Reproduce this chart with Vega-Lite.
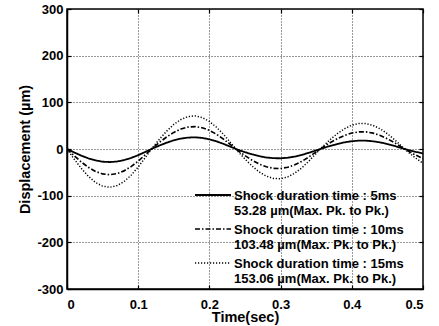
{
  "$schema": "https://vega.github.io/schema/vega-lite/v6.json",
  "width": 356,
  "height": 280,
  "autosize": "none",
  "padding": {"left": 67, "top": 9, "right": 16, "bottom": 37},
  "background": "white",
  "config": {
    "view": {"stroke": "black", "strokeWidth": 1.5},
    "font": "Liberation Sans",
    "axis": {
      "domainColor": "black", "domainWidth": 1.5,
      "gridColor": "#333", "gridDash": [1, 2], "gridWidth": 1,
      "tickColor": "black", "tickSize": -4, "tickWidth": 1.2,
      "labelFont": "Liberation Sans", "labelFontSize": 13, "labelFontWeight": "bold", "labelColor": "black",
      "titleFont": "Liberation Sans", "titleFontSize": 14.5, "titleFontWeight": "bold", "titleColor": "black"
    }
  },
  "data": {"values": [
    {"t":0,"v":0,"s":"5ms"},{"t":0.01,"v":-7.3,"s":"5ms"},{"t":0.02,"v":-14.2,"s":"5ms"},{"t":0.03,"v":-20.0,"s":"5ms"},{"t":0.04,"v":-24.4,"s":"5ms"},{"t":0.05,"v":-27.2,"s":"5ms"},{"t":0.06,"v":-28.0,"s":"5ms"},{"t":0.07,"v":-26.9,"s":"5ms"},{"t":0.08,"v":-23.9,"s":"5ms"},{"t":0.09,"v":-19.2,"s":"5ms"},{"t":0.1,"v":-13.2,"s":"5ms"},{"t":0.11,"v":-6.2,"s":"5ms"},{"t":0.12,"v":1.0,"s":"5ms"},{"t":0.13,"v":7.5,"s":"5ms"},{"t":0.14,"v":13.5,"s":"5ms"},{"t":0.15,"v":18.6,"s":"5ms"},{"t":0.16,"v":22.3,"s":"5ms"},{"t":0.17,"v":24.5,"s":"5ms"},{"t":0.18,"v":25.0,"s":"5ms"},{"t":0.19,"v":23.7,"s":"5ms"},{"t":0.2,"v":20.8,"s":"5ms"},{"t":0.21,"v":16.4,"s":"5ms"},{"t":0.22,"v":10.9,"s":"5ms"},{"t":0.23,"v":4.6,"s":"5ms"},{"t":0.24,"v":-1.6,"s":"5ms"},{"t":0.25,"v":-6.8,"s":"5ms"},{"t":0.26,"v":-11.5,"s":"5ms"},{"t":0.27,"v":-15.4,"s":"5ms"},{"t":0.28,"v":-18.2,"s":"5ms"},{"t":0.29,"v":-19.7,"s":"5ms"},{"t":0.3,"v":-19.9,"s":"5ms"},{"t":0.31,"v":-18.7,"s":"5ms"},{"t":0.32,"v":-16.2,"s":"5ms"},{"t":0.33,"v":-12.5,"s":"5ms"},{"t":0.34,"v":-8.0,"s":"5ms"},{"t":0.35,"v":-2.9,"s":"5ms"},{"t":0.36,"v":2.1,"s":"5ms"},{"t":0.37,"v":6.8,"s":"5ms"},{"t":0.38,"v":10.9,"s":"5ms"},{"t":0.39,"v":14.3,"s":"5ms"},{"t":0.4,"v":16.7,"s":"5ms"},{"t":0.41,"v":17.9,"s":"5ms"},{"t":0.42,"v":17.8,"s":"5ms"},{"t":0.43,"v":16.5,"s":"5ms"},{"t":0.44,"v":14.1,"s":"5ms"},{"t":0.45,"v":10.7,"s":"5ms"},{"t":0.46,"v":6.5,"s":"5ms"},{"t":0.47,"v":1.9,"s":"5ms"},{"t":0.48,"v":-2.4,"s":"5ms"},{"t":0.49,"v":-6.2,"s":"5ms"},{"t":0.5,"v":-9.5,"s":"5ms"},
    {"t":0,"v":0,"s":"10ms"},{"t":0.01,"v":-14.4,"s":"10ms"},{"t":0.02,"v":-27.8,"s":"10ms"},{"t":0.03,"v":-39.3,"s":"10ms"},{"t":0.04,"v":-48.0,"s":"10ms"},{"t":0.05,"v":-53.4,"s":"10ms"},{"t":0.06,"v":-55.0,"s":"10ms"},{"t":0.07,"v":-52.8,"s":"10ms"},{"t":0.08,"v":-46.9,"s":"10ms"},{"t":0.09,"v":-37.7,"s":"10ms"},{"t":0.1,"v":-25.9,"s":"10ms"},{"t":0.11,"v":-12.3,"s":"10ms"},{"t":0.12,"v":1.9,"s":"10ms"},{"t":0.13,"v":14.4,"s":"10ms"},{"t":0.14,"v":25.9,"s":"10ms"},{"t":0.15,"v":35.6,"s":"10ms"},{"t":0.16,"v":42.8,"s":"10ms"},{"t":0.17,"v":47.0,"s":"10ms"},{"t":0.18,"v":47.9,"s":"10ms"},{"t":0.19,"v":45.5,"s":"10ms"},{"t":0.2,"v":39.9,"s":"10ms"},{"t":0.21,"v":31.5,"s":"10ms"},{"t":0.22,"v":20.9,"s":"10ms"},{"t":0.23,"v":8.8,"s":"10ms"},{"t":0.24,"v":-3.4,"s":"10ms"},{"t":0.25,"v":-14.2,"s":"10ms"},{"t":0.26,"v":-24.1,"s":"10ms"},{"t":0.27,"v":-32.3,"s":"10ms"},{"t":0.28,"v":-38.2,"s":"10ms"},{"t":0.29,"v":-41.4,"s":"10ms"},{"t":0.3,"v":-41.8,"s":"10ms"},{"t":0.31,"v":-39.2,"s":"10ms"},{"t":0.32,"v":-33.9,"s":"10ms"},{"t":0.33,"v":-26.3,"s":"10ms"},{"t":0.34,"v":-16.8,"s":"10ms"},{"t":0.35,"v":-6.1,"s":"10ms"},{"t":0.36,"v":4.4,"s":"10ms"},{"t":0.37,"v":13.9,"s":"10ms"},{"t":0.38,"v":22.4,"s":"10ms"},{"t":0.39,"v":29.3,"s":"10ms"},{"t":0.4,"v":34.2,"s":"10ms"},{"t":0.41,"v":36.7,"s":"10ms"},{"t":0.42,"v":36.6,"s":"10ms"},{"t":0.43,"v":34.0,"s":"10ms"},{"t":0.44,"v":29.0,"s":"10ms"},{"t":0.45,"v":22.0,"s":"10ms"},{"t":0.46,"v":13.4,"s":"10ms"},{"t":0.47,"v":3.9,"s":"10ms"},{"t":0.48,"v":-5.1,"s":"10ms"},{"t":0.49,"v":-13.2,"s":"10ms"},{"t":0.5,"v":-20.4,"s":"10ms"},
    {"t":0,"v":0,"s":"15ms"},{"t":0.01,"v":-21.5,"s":"15ms"},{"t":0.02,"v":-41.5,"s":"15ms"},{"t":0.03,"v":-58.5,"s":"15ms"},{"t":0.04,"v":-71.6,"s":"15ms"},{"t":0.05,"v":-79.5,"s":"15ms"},{"t":0.06,"v":-82.0,"s":"15ms"},{"t":0.07,"v":-78.7,"s":"15ms"},{"t":0.08,"v":-69.9,"s":"15ms"},{"t":0.09,"v":-56.3,"s":"15ms"},{"t":0.1,"v":-38.6,"s":"15ms"},{"t":0.11,"v":-18.3,"s":"15ms"},{"t":0.12,"v":2.8,"s":"15ms"},{"t":0.13,"v":21.3,"s":"15ms"},{"t":0.14,"v":38.3,"s":"15ms"},{"t":0.15,"v":52.7,"s":"15ms"},{"t":0.16,"v":63.3,"s":"15ms"},{"t":0.17,"v":69.5,"s":"15ms"},{"t":0.18,"v":70.9,"s":"15ms"},{"t":0.19,"v":67.3,"s":"15ms"},{"t":0.2,"v":59.0,"s":"15ms"},{"t":0.21,"v":46.6,"s":"15ms"},{"t":0.22,"v":31.0,"s":"15ms"},{"t":0.23,"v":13.1,"s":"15ms"},{"t":0.24,"v":-5.1,"s":"15ms"},{"t":0.25,"v":-21.6,"s":"15ms"},{"t":0.26,"v":-36.7,"s":"15ms"},{"t":0.27,"v":-49.2,"s":"15ms"},{"t":0.28,"v":-58.2,"s":"15ms"},{"t":0.29,"v":-63.1,"s":"15ms"},{"t":0.3,"v":-63.7,"s":"15ms"},{"t":0.31,"v":-59.8,"s":"15ms"},{"t":0.32,"v":-51.7,"s":"15ms"},{"t":0.33,"v":-40.1,"s":"15ms"},{"t":0.34,"v":-25.5,"s":"15ms"},{"t":0.35,"v":-9.3,"s":"15ms"},{"t":0.36,"v":6.5,"s":"15ms"},{"t":0.37,"v":20.6,"s":"15ms"},{"t":0.38,"v":33.3,"s":"15ms"},{"t":0.39,"v":43.6,"s":"15ms"},{"t":0.4,"v":50.9,"s":"15ms"},{"t":0.41,"v":54.6,"s":"15ms"},{"t":0.42,"v":54.5,"s":"15ms"},{"t":0.43,"v":50.5,"s":"15ms"},{"t":0.44,"v":43.1,"s":"15ms"},{"t":0.45,"v":32.7,"s":"15ms"},{"t":0.46,"v":20.0,"s":"15ms"},{"t":0.47,"v":5.8,"s":"15ms"},{"t":0.48,"v":-7.6,"s":"15ms"},{"t":0.49,"v":-19.8,"s":"15ms"},{"t":0.5,"v":-30.5,"s":"15ms"}
  ]},
  "layer": [
    {
      "mark": {"type": "line", "color": "black", "clip": true},
      "encoding": {
        "x": {"field": "t", "type": "quantitative", "scale": {"domain": [0, 0.5], "nice": false, "zero": false},
              "axis": {"values": [0, 0.1, 0.2, 0.3, 0.4, 0.5], "labelExpr": "'' + datum.value", "title": "Time(sec)", "labelPadding": 13, "titlePadding": -1, "orient": "bottom"}},
        "y": {"field": "v", "type": "quantitative", "scale": {"domain": [-300, 300], "nice": false},
              "axis": {"values": [-300, -200, -100, 0, 100, 200, 300], "labelExpr": "'' + datum.value", "title": "Displacement (µm)", "labelPadding": 8, "titlePadding": 4, "orient": "left"}},
        "detail": {"field": "s"},
        "strokeDash": {"field": "s", "type": "nominal",
          "scale": {"domain": ["5ms", "10ms", "15ms"], "range": [[1, 0], [5, 2, 1.5, 2], [1.2, 1.8]]},
          "legend": {
            "title": null, "orient": "none", "legendX": 139, "legendY": 179, "padding": 0,
            "symbolType": "M-3,0H3", "symbolSize": 144, "symbolStrokeColor": "black", "symbolStrokeWidth": 1.5,
            "labelOffset": 14, "rowPadding": 4,
            "labelFont": "Liberation Sans", "labelFontSize": 13, "labelFontWeight": "bold", "labelColor": "black",
            "labelBaseline": "alphabetic", "labelLimit": 300,
            "labelExpr": "datum.value == '5ms' ? ['Shock duration time : 5ms', '53.28 µm(Max. Pk. to Pk.)'] : datum.value == '10ms' ? ['Shock duration time : 10ms', '103.48 µm(Max. Pk. to Pk.)'] : ['Shock duration time : 15ms', '153.06 µm(Max. Pk. to Pk.)']",
            "encode": {"labels": {"update": {"dy": {"value": 5}}}}
          }},
        "strokeWidth": {"field": "s", "type": "nominal",
          "scale": {"domain": ["5ms", "10ms", "15ms"], "range": [1.8, 1.5, 1.3]}, "legend": null},
        "order": {"field": "t"}
      }
    },
    {
      "mark": {"type": "point", "opacity": 0},
      "encoding": {
        "x": {"field": "t", "type": "quantitative", "scale": {"domain": [0, 0.5], "nice": false, "zero": false},
              "axis": {"orient": "top", "values": [0, 0.1, 0.2, 0.3, 0.4, 0.5], "labels": false, "grid": false, "domain": false, "title": null}},
        "y": {"field": "v", "type": "quantitative", "scale": {"domain": [-300, 300], "nice": false},
              "axis": {"orient": "right", "values": [-300, -200, -100, 0, 100, 200, 300], "labels": false, "grid": false, "domain": false, "title": null}}
      }
    }
  ],
  "resolve": {"axis": {"x": "independent", "y": "independent"}}
}
